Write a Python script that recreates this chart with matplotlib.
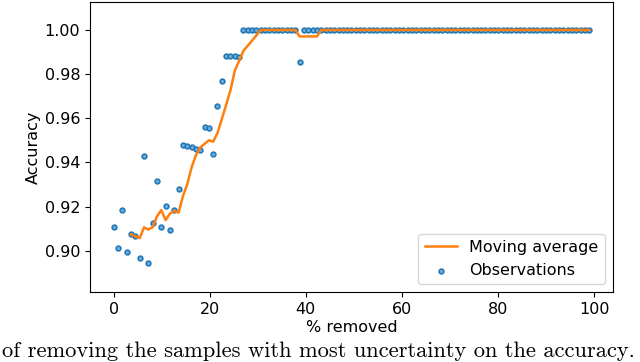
import numpy as np
import pandas as pd
import matplotlib
matplotlib.use("Agg")
import matplotlib.pyplot as plt

# ---- data ----
accuracy = [
    0.9107, 0.9011, 0.9183, 0.8993, 0.9076, 0.9067, 0.8966, 0.9429, 0.8944, 0.9127,
    0.9314, 0.9109, 0.9201, 0.9092, 0.9184, 0.9280, 0.9479, 0.9474, 0.9468, 0.9462,
    0.9456, 0.9560, 0.9556, 0.9438, 0.9657, 0.9771, 0.9884, 0.9884, 0.9881, 0.9879,
    1.0, 1.0, 1.0, 1.0, 1.0, 1.0, 1.0, 1.0, 1.0, 1.0,
    1.0, 1.0, 1.0, 0.9854, 1.0, 1.0, 1.0, 1.0, 1.0, 1.0,
    1.0, 1.0, 1.0, 1.0, 1.0, 1.0, 1.0, 1.0, 1.0, 1.0,
    1.0, 1.0, 1.0, 1.0, 1.0, 1.0, 1.0, 1.0, 1.0, 1.0,
    1.0, 1.0, 1.0, 1.0, 1.0, 1.0, 1.0, 1.0, 1.0, 1.0,
    1.0, 1.0, 1.0, 1.0, 1.0, 1.0, 1.0, 1.0, 1.0, 1.0,
    1.0, 1.0, 1.0, 1.0, 1.0, 1.0, 1.0, 1.0, 1.0, 1.0,
    1.0, 1.0, 1.0, 1.0, 1.0, 1.0, 1.0, 1.0, 1.0, 1.0,
    1.0,
]
pct_removed = np.linspace(0, 99, len(accuracy))
window = 5
x_ticks = [0, 20, 40, 60, 80, 100]
y_ticks = [0.90, 0.92, 0.94, 0.96, 0.98, 1.00]
caption = "of removing the samples with most uncertainty on the accuracy."

moving_avg = pd.Series(accuracy).rolling(window).mean()

fig = plt.figure(figsize=(6.4, 3.62), dpi=100)
ax = fig.add_axes([0.1406, 0.1925, 0.8172, 0.8028])

ax.plot(pct_removed, moving_avg, color="#ff7f0e", lw=1.8, label="Moving average", zorder=3)
ax.scatter(pct_removed, accuracy, s=12, marker="o", facecolor="#6fa8dc",
           edgecolor="#1f77b4", linewidths=1.1, label="Observations", zorder=2)

ax.set_xlim(-4.95, 103.95)
ax.set_ylim(0.8812, 1.0128)
ax.set_xticks(x_ticks)
ax.set_yticks(y_ticks)
ax.set_yticklabels([f"{v:.2f}" for v in y_ticks])
ax.tick_params(labelsize=11.5)
ax.set_xlabel("% removed", fontsize=11.5, labelpad=2)
ax.set_ylabel("Accuracy", fontsize=11.5, labelpad=3)
ax.legend(loc="lower right", fontsize=11.5, scatterpoints=1)

fig.text(2 / 640, 1 - 357 / 362, caption, ha="left", va="baseline",
         fontsize=16.2, family=["cmr10", "DejaVu Serif"])

fig.savefig("out.png", dpi=100)
